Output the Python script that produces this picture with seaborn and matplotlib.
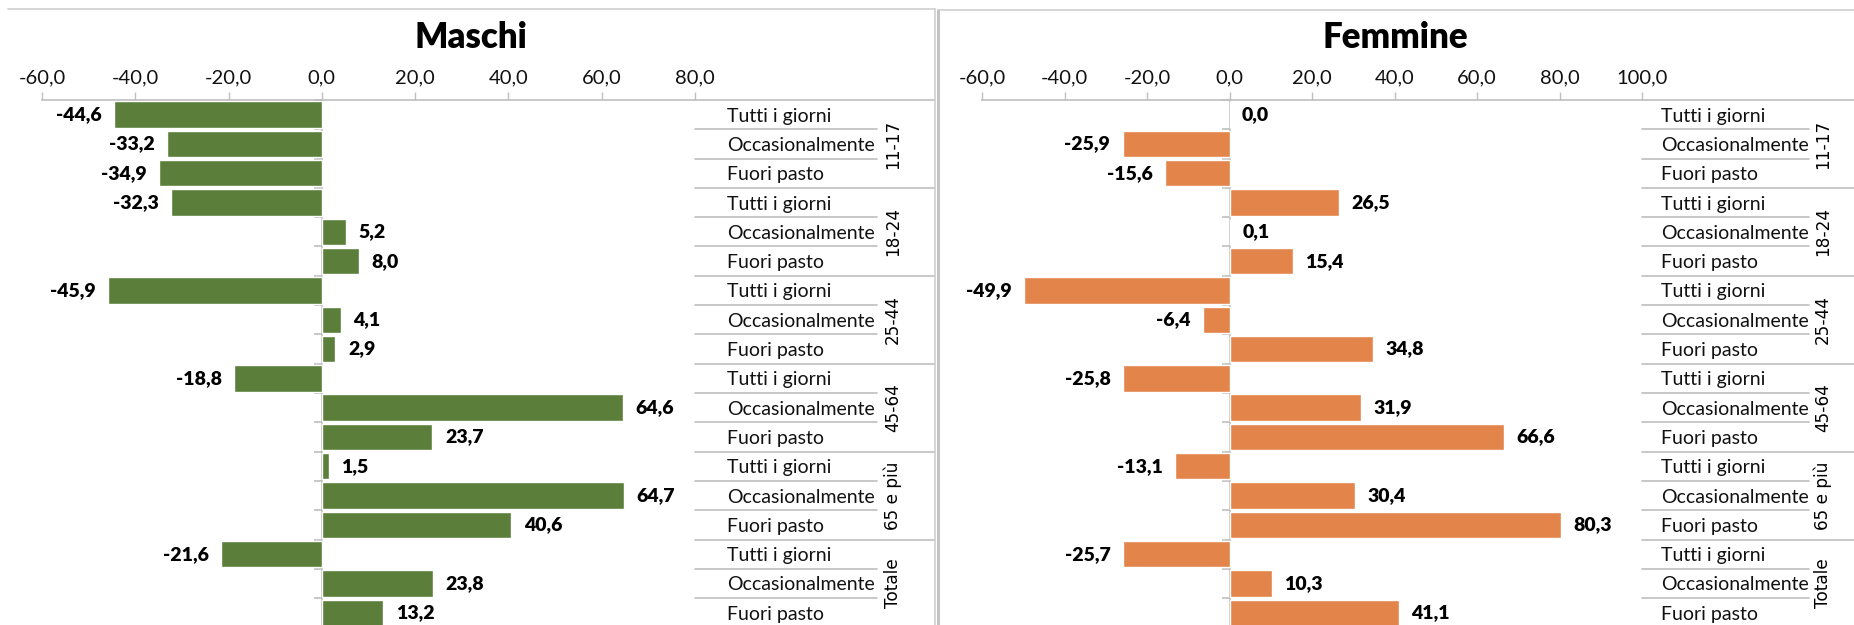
import numpy as np
import pandas as pd
import matplotlib
matplotlib.use("Agg")
import matplotlib.pyplot as plt
import matplotlib.transforms as mtransforms
from matplotlib.lines import Line2D
from matplotlib.ticker import FuncFormatter
import seaborn as sns

# ---------------- data ----------------
groups = ["11-17", "18-24", "25-44", "45-64", "65 e più", "Totale"]
subs = ["Tutti i giorni", "Occasionalmente", "Fuori pasto"]
maschi = [-44.6, -33.2, -34.9,
          -32.3, 5.2, 8.0,
          -45.9, 4.1, 2.9,
          -18.8, 64.6, 23.7,
          1.5, 64.7, 40.6,
          -21.6, 23.8, 13.2]
femmine = [0.0, -25.9, -15.6,
           26.5, 0.1, 15.4,
           -49.9, -6.4, 34.8,
           -25.8, 31.9, 66.6,
           -13.1, 30.4, 80.3,
           -25.7, 10.3, 41.1]
titles = ["Maschi", "Femmine"]
xticks_m = [-60, -40, -20, 0, 20, 40, 60, 80]
xticks_f = [-60, -40, -20, 0, 20, 40, 60, 80, 100]

sns.set_theme(style="white")
plt.rcParams["font.family"] = ["Lato", "DejaVu Sans"]

W, H = 1854, 625
fig = plt.figure(figsize=(W / 100, H / 100), dpi=100)

rows = [f"{g}|{s}" for g in groups for s in subs]
GRID = "#BFBFBF"
TXT = "#111111"


def fx(px):
    return px / W


def fy(py):
    return 1 - py / H


def comma(v, pos=None):
    return f"{v:.1f}".replace(".", ",")


ROW_PX = 29.3
TOP_PX = 100


def panel(values, color, x0, x1, xlim, ticks, title, title_cx,
          lab_pad_px, inner_end, group_end, grp_x):
    ax = fig.add_axes([fx(x0), 0, fx(x1) - fx(x0), fy(TOP_PX)])
    df = pd.DataFrame({"row": rows, "val": values})
    sns.barplot(data=df, x="val", y="row", orient="h", color=color,
                saturation=1, width=0.9, ax=ax, order=rows)
    ax.set_xlim(*xlim)
    nrows_vis = (H - TOP_PX) / ROW_PX
    ax.set_ylim(-0.5 + nrows_vis, -0.5)
    ax.set_xlabel("")
    ax.set_ylabel("")
    # x axis on top
    ax.xaxis.tick_top()
    ax.set_xticks(ticks)
    ax.xaxis.set_major_formatter(FuncFormatter(comma))
    ax.tick_params(axis="x", direction="out", length=6, width=1,
                   color=GRID, labelsize=14.5, labelcolor=TXT, pad=4)
    for s in ["left", "right", "bottom"]:
        ax.spines[s].set_visible(False)
    ax.spines["top"].set_color(GRID)
    ax.spines["top"].set_linewidth(1.2)
    # category labels on the right
    ax.yaxis.tick_right()
    ax.set_yticks(range(len(rows)))
    ax.set_yticklabels(subs * len(groups))
    ax.tick_params(axis="y", length=0, pad=lab_pad_px * 0.72,
                   labelsize=14, labelcolor=TXT)
    for t in ax.get_yticklabels():
        t.set_horizontalalignment("left")
    ax.grid(False)
    ax.set_facecolor("none")
    # zero (category) axis line with small tick marks
    ax.axvline(0, color=GRID, lw=1.2, zorder=0)
    bounds = np.arange(len(rows) + 1) - 0.5
    ax.plot(np.zeros_like(bounds), bounds, linestyle="none", marker=0,
            markersize=6, color=GRID, markeredgewidth=1.2, zorder=0,
            clip_on=False)
    # data labels
    cont = ax.containers[0]
    ax.bar_label(cont, labels=[comma(v) for v in values], padding=9,
                 fontsize=14, fontweight="heavy", color="black")
    # table lines
    tr = mtransforms.blended_transform_factory(fig.transFigure, ax.transData)
    for i in range(len(rows) + 1):
        yb = i - 0.5
        xe = group_end if i % 3 == 0 else inner_end
        fig.add_artist(Line2D([fx(x1), fx(xe)], [yb, yb], transform=tr,
                              color=GRID, lw=1.2))
    for gi, g in enumerate(groups):
        fig.text(fx(grp_x), 3 * gi + 1, g, transform=tr, rotation=90,
                 ha="center", va="center", fontsize=12.2,
                 family="DejaVu Sans", color="black")
    fig.text(fx(title_cx), fy(38), title, ha="center", va="center",
             fontsize=25, fontweight="heavy", color="black")
    return ax


panel(maschi, "#5B7F3B", 42, 695, (-60, 80), xticks_m, titles[0], 471,
      32, 877, 935, 893)
panel(femmine, "#E3844A", 982, 1642, (-60, 100), xticks_f, titles[1], 1395,
      19, 1809, 1854, 1823)

# chart borders
BORDER = "#D0D0D0"
fig.add_artist(Line2D([fx(8), fx(935)], [fy(9), fy(9)], color=BORDER, lw=1.2))
fig.add_artist(Line2D([fx(935), fx(935)], [fy(9), 0], color=BORDER, lw=1.2))
fig.add_artist(Line2D([fx(938), fx(938)], [fy(10), 0], color="#C4C4C4", lw=2.2))
fig.add_artist(Line2D([fx(938), 1], [fy(10), fy(10)], color=BORDER, lw=1.2))

fig.savefig("out.png", dpi=100)
